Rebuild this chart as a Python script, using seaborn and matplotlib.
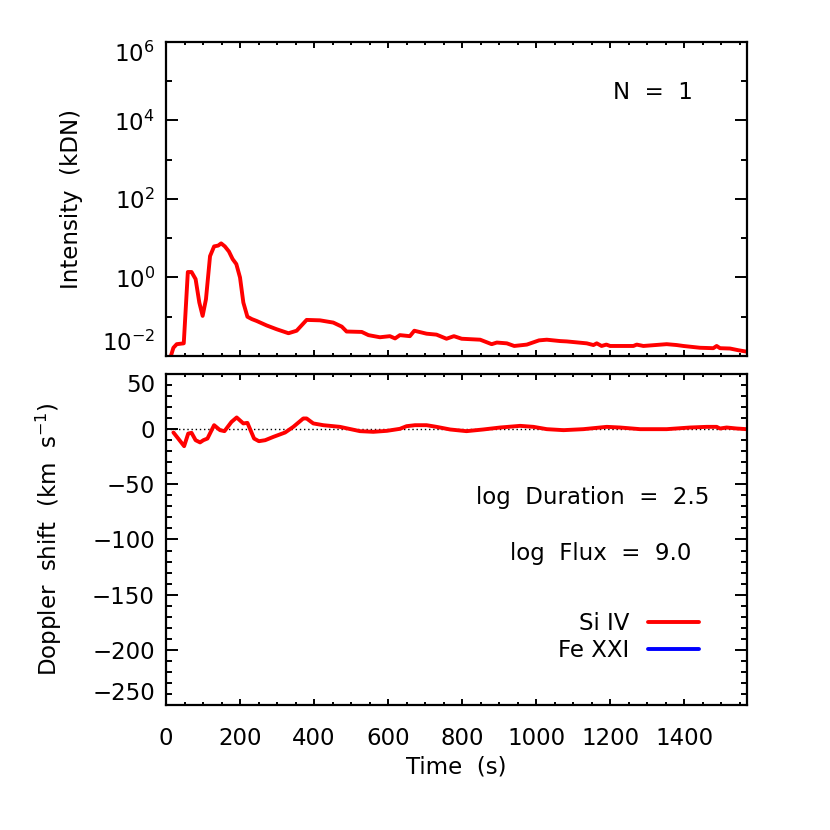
import numpy as np
import matplotlib
matplotlib.use("Agg")
import matplotlib.pyplot as plt
import seaborn as sns
from matplotlib.lines import Line2D
from matplotlib.ticker import MultipleLocator, FixedLocator, NullFormatter

# Si IV light curve (time in s, intensity in kDN)
si_time = [10, 20, 29, 48, 59, 69, 80, 90, 99, 108,
           119, 130, 141, 149, 159, 170, 180, 190, 200, 209,
           220, 232, 245, 272, 299, 331, 353, 380, 416, 452,
           475, 488, 529, 547, 578, 605, 619, 632, 659, 671,
           704, 731, 758, 778, 799, 849, 880, 894, 921, 941,
           975, 1008, 1029, 1065, 1083, 1137, 1155, 1164, 1177, 1190,
           1200, 1263, 1272, 1290, 1353, 1380, 1398, 1443, 1479, 1488,
           1497, 1524, 1547, 1569]
si_intensity = [0.008, 0.0162, 0.020, 0.021, 1.38, 1.38, 0.91, 0.23, 0.105, 0.28,
                3.5, 6.2, 6.5, 7.4, 6.2, 4.6, 2.95, 2.2, 1.0, 0.23,
                0.10, 0.087, 0.078, 0.060, 0.048, 0.038, 0.044, 0.083, 0.081, 0.071,
                0.056, 0.042, 0.041, 0.034, 0.030, 0.032, 0.028, 0.034, 0.032, 0.044,
                0.037, 0.035, 0.0275, 0.032, 0.0275, 0.026, 0.020, 0.022, 0.021, 0.018,
                0.0195, 0.025, 0.026, 0.024, 0.0235, 0.021, 0.019, 0.021, 0.018, 0.0195,
                0.018, 0.018, 0.0195, 0.018, 0.020, 0.019, 0.018, 0.0162, 0.0158, 0.018,
                0.0158, 0.0155, 0.014, 0.0129]

# Si IV doppler shift (km/s)
dop_time = [20, 33, 49, 60, 69, 80, 92, 101, 112, 130,
            146, 158, 177, 191, 209, 220, 238, 251, 268, 290,
            322, 344, 371, 380, 398, 425, 470, 524, 560, 597,
            632, 650, 673, 704, 731, 768, 812, 857, 903, 957,
            993, 1029, 1074, 1128, 1191, 1227, 1281, 1353, 1416, 1461,
            1488, 1497, 1515, 1542, 1569]
si_doppler = [-3.0, -8.5, -15.4, -4, -3.3, -10, -12, -10, -8.5, 3.6,
              -0.9, -1.8, 6.6, 10.6, 5.2, 5.7, -8.5, -10.9, -10, -7,
              -3, 2.1, 9.7, 9.7, 5.2, 3.6, 2.1, -1.8, -2.4, -1.5,
              0.3, 2.7, 3.6, 3.6, 2.1, -0.3, -1.8, -0.3, 1.5, 3.0,
              2.1, 0, -0.9, 0, 2.1, 1.5, 0, 0, 1.5, 2.1,
              2.1, 0.6, 1.5, 0.6, 0]

intensity_ticks = [1e-2, 1e0, 1e2, 1e4, 1e6]
intensity_ticklabels = [r'$10^{-2}$', r'$10^{0}$', r'$10^{2}$', r'$10^{4}$', r'$10^{6}$']
doppler_ticks = [-250, -200, -150, -100, -50, 0, 50]
line_names = ['Si IV', 'Fe XXI']
line_colors = ['red', 'blue']

sns.set_style("ticks")
plt.rcParams['font.family'] = ['DejaVu Sans']
for key in ['text.color', 'axes.labelcolor', 'xtick.color', 'ytick.color', 'axes.edgecolor']:
    plt.rcParams[key] = 'black'
FS = 16.5

fig = plt.figure(figsize=(8.3, 8.3), dpi=100)
ax1 = fig.add_axes([0.2, 0.5711, 0.7, 0.3783])
ax2 = fig.add_axes([0.2, 0.1506, 0.7, 0.3988])

# top panel: intensity
sns.lineplot(x=si_time, y=si_intensity, ax=ax1, color='red', lw=2.8, sort=False, estimator=None)
ax1.set_yscale('log')
ax1.set_ylim(1e-2, 1e6)
ax1.set_xlim(0, 1570)
ax1.set_yticks(intensity_ticks)
ax1.set_yticklabels(intensity_ticklabels)
ax1.yaxis.set_minor_locator(FixedLocator([1e-1, 1e1, 1e3, 1e5]))
ax1.yaxis.set_minor_formatter(NullFormatter())
ax1.set_xticklabels([])
ax1.set_xlabel('')
ax1.text(0.907, 0.838, 'N  =  1', transform=ax1.transAxes, ha='right', va='center', fontsize=FS)
ax1.set_ylabel('Intensity  (kDN)', fontsize=FS)
ax1.yaxis.set_label_coords(-0.143, 0.5)

# bottom panel: doppler shift
ax2.axhline(0, color='black', lw=1.0, ls=(0, (1, 2)))
sns.lineplot(x=dop_time, y=si_doppler, ax=ax2, color='red', lw=2.8, sort=False, estimator=None)
ax2.set_ylim(-250, 50)
ax2.set_xlim(0, 1570)
ax2.set_yticks(doppler_ticks)
ax2.yaxis.set_minor_locator(MultipleLocator(10))
ax2.set_xlabel('Time  (s)', fontsize=FS, labelpad=4)
ax2.set_ylabel(r'Doppler  shift  (km  s$^{-1}$)', fontsize=FS)
ax2.yaxis.set_label_coords(-0.176, 0.5)
ax2.text(0.936, 0.628, 'log  Duration  =  2.5', transform=ax2.transAxes, ha='right', va='center', fontsize=FS)
ax2.text(0.905, 0.459, 'log  Flux  =  9.0', transform=ax2.transAxes, ha='right', va='center', fontsize=FS)

handles = [Line2D([], [], color=c, lw=2.8) for c in line_colors]
ax2.legend(handles, line_names, loc='center right', bbox_to_anchor=(0.917, 0.205),
           frameon=False, markerfirst=False, fontsize=FS, handlelength=2.2,
           handletextpad=0.85, labelspacing=0.15, borderpad=0, borderaxespad=0)

for ax in (ax1, ax2):
    ax.xaxis.set_major_locator(MultipleLocator(200))
    ax.xaxis.set_minor_locator(MultipleLocator(50))
    ax.tick_params(axis='both', which='both', direction='in', top=True, right=True,
                   labelsize=FS, width=1.4, color='black')
    ax.tick_params(axis='y', which='major', length=8.5, pad=8)
    ax.tick_params(axis='y', which='minor', length=4.3)
    ax.tick_params(axis='x', which='major', length=4.3, pad=16)
    ax.tick_params(axis='x', which='minor', length=2.0)
    for sp in ax.spines.values():
        sp.set_visible(True)
        sp.set_linewidth(1.6)
        sp.set_color('black')

# keep the end labels inside the panel height, as in the original
fig.canvas.draw()
for ax in (ax1, ax2):
    labels = ax.get_yticklabels()
    labels[0].set_va('bottom')
    labels[-1].set_va('top')

fig.savefig('out.png', dpi=100)
